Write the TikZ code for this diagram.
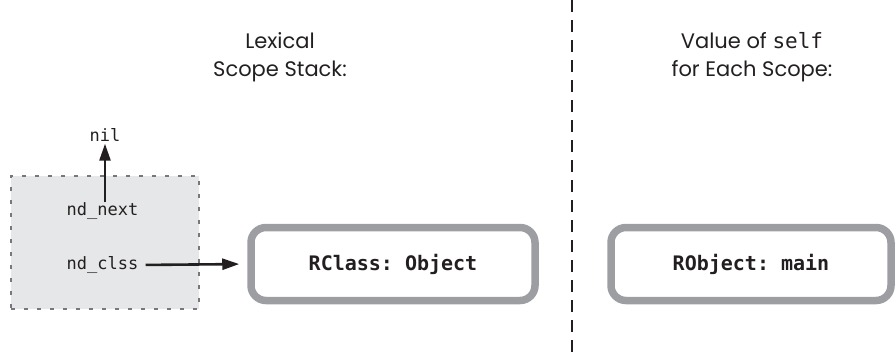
\documentclass[tikz,border=0pt]{standalone}
\usepackage{fontspec}
\setmainfont{Poppins}
\setmonofont{DejaVu Sans Mono}
\usetikzlibrary{arrows.meta,positioning}
\definecolor{ink}{HTML}{231F20}
\definecolor{rim}{HTML}{9D9EA1}
\definecolor{shade}{HTML}{E6E7E8}
\definecolor{dots}{HTML}{77787B}
\tikzset{
  every node/.style={text=ink},
  % headings above each column
  head/.style={font=\fontsize{21}{28}\selectfont, align=center},
  field/.style={font=\ttfamily\fontsize{17}{20}\selectfont, inner sep=0pt},
  frame/.style={draw=dots, fill=shade, line width=2.4pt, dash pattern=on 4pt off 9pt},
  objbox/.style={draw=rim, line width=7.5pt, rounded corners=15pt, minimum height=73pt,
                 font=\ttfamily\bfseries\fontsize{20}{22}\selectfont},
  arr/.style={-{Triangle[length=17pt,width=11pt]}, line width=2.6pt, color=ink},
  divider/.style={line width=2pt, color=ink, dash pattern=on 12pt off 8pt},
}
\begin{document}
\begin{tikzpicture}[x=1pt,y=-1pt]
  \useasboundingbox (0,0) rectangle (896,357);

  % ---- left column: the scope stack ----
  \node[head] (lexhead) at (280,57) {Lexical\\Scope Stack:};
  \node[frame, minimum width=188pt, minimum height=133pt] (stack) at (105,242.5) {};
  \node[field] (next) at (102.5,211) {nd\_next};
  \node[field] (clss) at (102.5,265) {nd\_clss};
  \node[field, inner sep=2pt] (nil) at (105,135) {nil};
  \node[objbox, minimum width=284pt] (rclass) at (393,264) {RClass: Object};

  \draw[arr] (nil |- next.north) -- (nil.south);
  \draw[arr, shorten <=7pt, shorten >=8pt] (clss.east) -- (rclass.west);

  % ---- divider ----
  \coordinate (top) at (572,0);
  \coordinate (bot) at (572,357);
  \draw[divider] (top) -- (bot);

  % ---- right column: self ----
  \node[head] (selfhead) at (752,57) {Value of \texttt{self}\\for Each Scope:};
  \node[objbox, minimum width=280pt] (robj) at (751,264) {RObject: main};
\end{tikzpicture}
\end{document}
